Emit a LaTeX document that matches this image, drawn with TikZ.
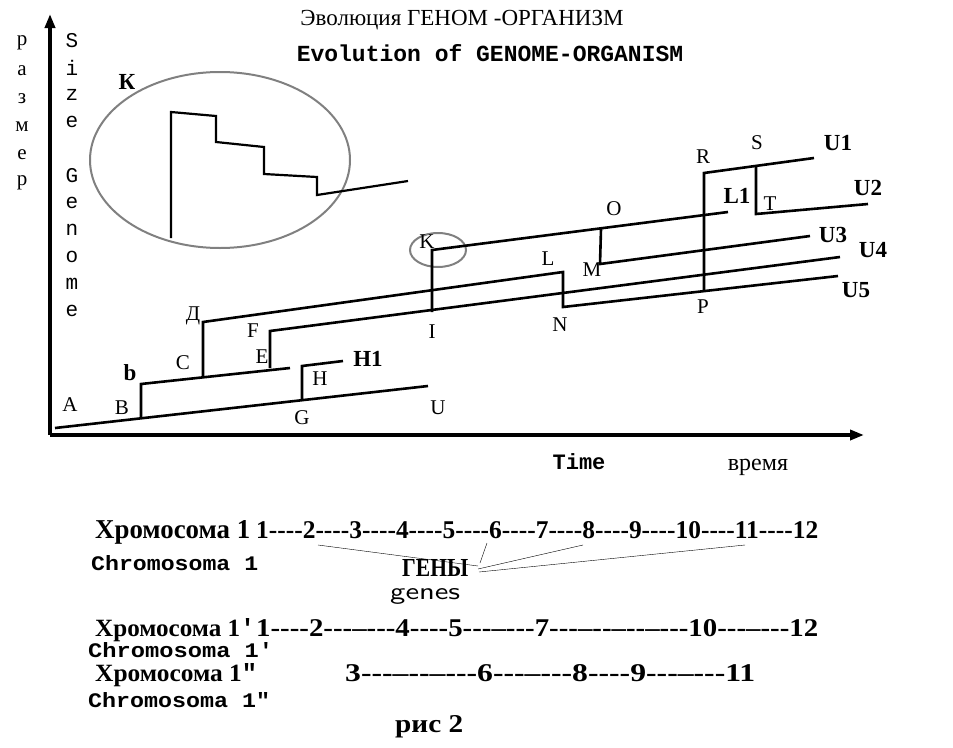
\documentclass[tikz,border=0pt]{standalone}
\usepackage{fontspec}
\setmainfont{Liberation Serif}
\setmonofont{Liberation Mono}
\usepackage{tikz}
\usetikzlibrary{positioning}
\usetikzlibrary{arrows.meta}
\newcommand\dd{-\kern0pt-\kern0pt-\kern0pt-}
\newcommand\sq{{\ttfamily\char"27}}
\newcommand\dq{{\ttfamily\char"22}}
\begin{document}
\begin{tikzpicture}[x=1pt,y=-1pt,
  axis/.style = {line width=4pt,-{Triangle[length=14pt,width=10pt]}},
  branch/.style = {line width=2.6pt},
  lupe/.style = {draw=gray,line width=2pt},
  lbl/.style = {font=\fontsize{21}{21}\selectfont,inner sep=0pt},
  blbl/.style = {font=\fontsize{23}{23}\selectfont\bfseries,inner sep=0pt},
  fit/.style = {inner sep=0pt,anchor=base west}]
 \useasboundingbox (0,0) rectangle (953,747);
 % axes
 \coordinate (o) at (50,435);
 \coordinate (ytop) at (50,14);
 \coordinate (xend) at (864,435);
 \draw[axis] (o) -- (ytop);
 \draw[axis] (o) -- (xend);
 % axis words
 \foreach \c [count=\i] in {р,а,з,м,е,р}
  \node[lbl] (ru\i) at (22,{15+28*\i}) {\c};
 \foreach \c [count=\i] in {S,i,z,e,,G,e,n,o,m,e}
  \node[lbl,font=\fontsize{21}{21}\selectfont\ttfamily] (en\i) at (72,{14+27*\i}) {\c};
 \node[font=\fontsize{23}{23}\selectfont] (title) at (462,20) {Эволюция ГЕНОМ -ОРГАНИЗМ};
 \node[font=\fontsize{23}{23}\selectfont\ttfamily\bfseries] (titleen) at (490,53) {Evolution of GENOME-ORGANISM};
 \node[font=\fontsize{22}{22}\selectfont\ttfamily\bfseries] (time) at (579,462) {Time};
 \node[font=\fontsize{24}{24}\selectfont] (vremya) at (758,467) {время};
 % magnifier
 \draw[lupe] (220,160) ellipse [x radius=130,y radius=88];
 \draw[lupe] (438,250) ellipse [x radius=28,y radius=17];
 \node[blbl] (kbig) at (127,82) {К};
 \draw[line width=2.2pt] (171,238) -- (171,112) -- (216,116) -- (216,142) -- (264,147)
   -- (264,174) -- (317,177) -- (317,195) -- (408,181);
 % points
 \coordinate (pA) at (55,428);  \coordinate (pU) at (428,386);
 \coordinate (pB) at (141,417); \coordinate (pb) at (141,384); \coordinate (pbe) at (290,368);
 \coordinate (pC) at (203,376); \coordinate (pD) at (203,322); \coordinate (pL) at (563,272);
 \coordinate (pN) at (563,307); \coordinate (pU5) at (838,276);
 \coordinate (pE) at (270,368); \coordinate (pF) at (270,331); \coordinate (pU4) at (840,257);
 \coordinate (pG) at (302,399); \coordinate (pH) at (302,366); \coordinate (pH1) at (343,361);
 \coordinate (pI) at (432,312); \coordinate (pK) at (432,250); \coordinate (pL1) at (728,212);
 \coordinate (pO) at (601,229); \coordinate (pM) at (600,264); \coordinate (pU3) at (810,236);
 \coordinate (pP) at (704,290); \coordinate (pR) at (704,173); \coordinate (pU1) at (814,158);
 \coordinate (pS) at (756,167); \coordinate (pT) at (756,214); \coordinate (pU2) at (868,204);
 % branches
 \draw[branch] (pA) -- (pU);
 \draw[branch] (pB) -- (pb) -- (pbe);
 \draw[branch] (pC) -- (pD) -- (pL) -- (pN) -- (pU5);
 \draw[branch] (pE) -- (pF) -- (pU4);
 \draw[branch] (pG) -- (pH) -- (pH1);
 \draw[branch] (pI) -- (pK) -- (pL1);
 \draw[branch] (pO) -- (pM) -- (pU3);
 \draw[branch] (pP) -- (pR) -- (pU1);
 \draw[branch] (pS) -- (pT) -- (pU2);
 % letters
 \node[lbl] (lA) at (70,405) {A};   \node[lbl] (lB) at (122,408) {B};
 \node[blbl] (lb) at (130,373) {b}; \node[lbl] (lC) at (183,363) {C};
 \node[lbl] (lD) at (193,316) {Д};  \node[lbl] (lF) at (253,331) {F};
 \node[lbl] (lE) at (262,357) {E};  \node[lbl] (lH) at (320,379) {H};
 \node[blbl] (lH1) at (368,359) {H1}; \node[lbl] (lG) at (302,418) {G};
 \node[lbl] (lU) at (438,408) {U};  \node[lbl] (lI) at (432,332) {I};
 \node[lbl] (lK) at (427,242) {K};  \node[lbl] (lL) at (548,259) {L};
 \node[lbl] (lN) at (560,325) {N};  \node[lbl] (lM) at (592,270) {M};
 \node[lbl] (lO) at (614,209) {O};  \node[lbl] (lR) at (703,157) {R};
 \node[lbl] (lS) at (757,143) {S};  \node[blbl] (lL1) at (737,196) {L1};
 \node[lbl] (lT) at (770,204) {T};  \node[lbl] (lP) at (703,307) {P};
 \node[blbl] (lU1) at (838,143) {U1}; \node[blbl] (lU2) at (868,188) {U2};
 \node[blbl] (lU3) at (833,235) {U3}; \node[blbl] (lU4) at (873,250) {U4};
 \node[blbl] (lU5) at (856,290) {U5};
 % chromosomes
 \node[fit] (chr1) at (95,538) {\resizebox{155pt}{18pt}{\bfseries Хромосома 1}};
 \node[fit] (seq1) at (256,538) {\resizebox{562pt}{17pt}{\bfseries 1\dd2\dd3\dd4\dd5\dd6\dd7\dd8\dd9\dd10\dd11\dd12}};
 \node[fit] (chr1en) at (91,570) {\resizebox{167pt}{15pt}{\ttfamily\bfseries Chromosoma 1}};
 \node[fit] (geny) at (402,576) {\resizebox{66pt}{17pt}{\bfseries ГЕНЫ}};
 \node[fit] (genes) at (390,599) {\resizebox{70pt}{11pt}{\sffamily genes}};
 \coordinate (g2) at (318,545); \coordinate (g6) at (487,543);
 \coordinate (g8) at (583,545); \coordinate (g11) at (745,545);
 \draw (g2) -- (478,566);
 \draw (g6) -- (480,563);
 \draw (g8) -- (478,569);
 \draw (g11) -- (479,572);
 \node[fit] (chr2) at (95,636) {\resizebox{160pt}{18pt}{\bfseries Хромосома 1\sq}};
 \node[fit] (seq2) at (256,636) {\resizebox{562pt}{17pt}{\bfseries 1\dd2\dd\dd4\dd5\dd\dd7\dd\dd\dd\dd10\dd\dd12}};
 \node[fit] (chr2en) at (88,657) {\resizebox{185pt}{15pt}{\ttfamily\bfseries Chromosoma 1\sq}};
 \node[fit] (chr3) at (95,681) {\resizebox{162pt}{18pt}{\bfseries Хромосома 1\dq}};
 \node[fit] (seq3) at (345,681) {\resizebox{410pt}{17pt}{\bfseries 3\dd\dd\dd6\dd\dd8\dd9\dd\dd11}};
 \node[fit] (chr3en) at (88,707) {\resizebox{182pt}{15pt}{\ttfamily\bfseries Chromosoma 1\dq}};
 \node[fit] (ris) at (395,732) {\resizebox{68pt}{17pt}{\bfseries рис 2}};
\end{tikzpicture}
\end{document}
